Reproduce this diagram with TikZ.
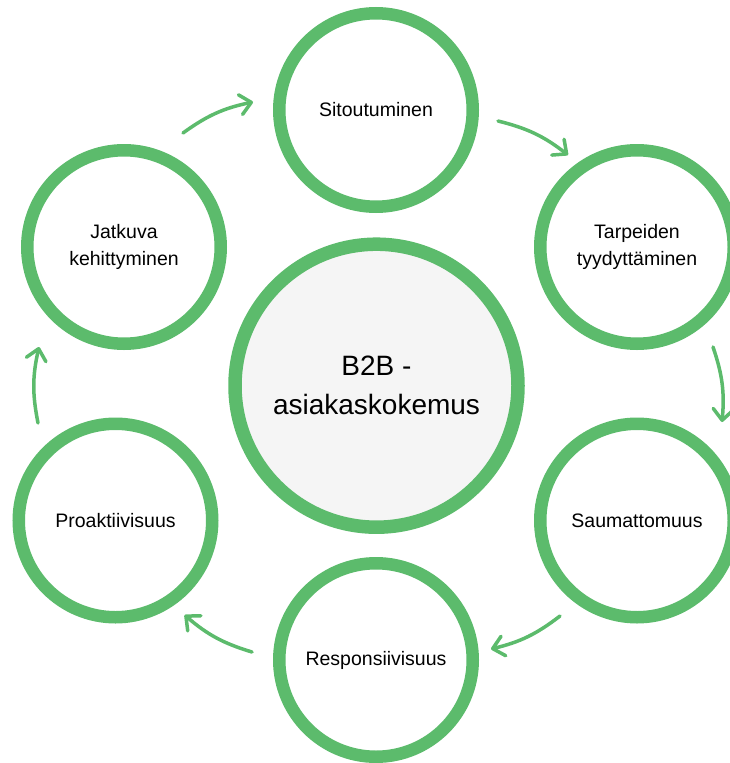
\documentclass[tikz,border=0pt]{standalone}
\usepackage{fontspec}
\setmainfont{Liberation Sans}
\usetikzlibrary{arrows.meta}
\definecolor{grn}{RGB}{92,187,108}
\definecolor{lgray}{RGB}{245,245,245}
\begin{document}
\begin{tikzpicture}[x=1pt,y=1pt,
  item/.style={circle, draw=grn, line width=12.5pt, minimum size=193.5pt, inner sep=0pt, align=center, fill=white, font=\fontsize{19.5}{27}\selectfont},
  hub/.style={circle, draw=grn, line width=13.5pt, fill=lgray, minimum size=283pt, inner sep=0pt, align=center, font=\fontsize{28}{39}\selectfont},
  flow/.style={draw=grn, line width=3.5pt, line cap=round, -{Straight Barb[length=11pt,width=20pt,line cap=round,line join=round]}, bend left=12}]
\useasboundingbox (0,0) rectangle (729,-763);
\node[hub] (hub) at (376.5,-385.7) {B2B -\\asiakaskokemus};
\node[item] (sit) at (376,-110) {Sitoutuminen};
\node[item] (tar) at (637,-247) {Tarpeiden\\tyydyttäminen};
\node[item] (sau) at (637,-520.5) {Saumattomuus};
\node[item] (res) at (376,-660) {Responsiivisuus};
\node[item] (pro) at (115.5,-520.5) {Proaktiivisuus};
\node[item] (jat) at (124,-247) {Jatkuva\\kehittyminen};
\coordinate (a1s) at (183,-133);  \coordinate (a1e) at (253,-102);
\coordinate (a2s) at (498,-121);  \coordinate (a2e) at (568,-155);
\coordinate (a3s) at (713,-347);  \coordinate (a3e) at (722,-422);
\coordinate (a4s) at (560,-616);  \coordinate (a4e) at (491,-649);
\coordinate (a5s) at (252,-652);  \coordinate (a5e) at (184.6,-615);
\coordinate (a6s) at (38,-423);   \coordinate (a6e) at (39,-347);
\draw[flow] (a1s) to (a1e);
\draw[flow] (a2s) to (a2e);
\draw[flow] (a3s) to (a3e);
\draw[flow] (a4s) to (a4e);
\draw[flow] (a5s) to (a5e);
\draw[flow] (a6s) to (a6e);
\end{tikzpicture}
\end{document}
